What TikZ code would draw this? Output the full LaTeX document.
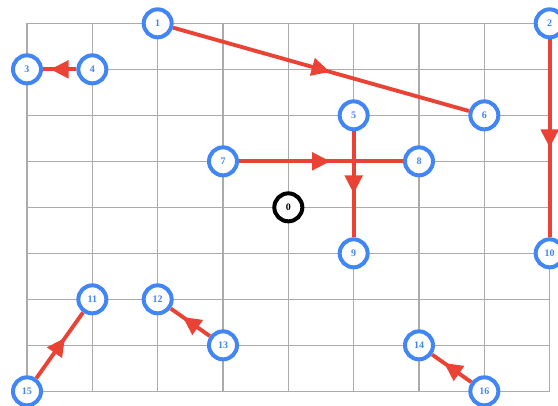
\documentclass[tikz,border=0pt]{standalone}
\usepackage{fontspec}
\setmainfont{Liberation Serif}
\usetikzlibrary{decorations.markings}
\definecolor{nodeblue}{HTML}{4286F5}
\definecolor{edgered}{HTML}{EA4335}
\definecolor{gridgray}{HTML}{ABABAB}

\begin{document}
\begin{tikzpicture}[x=49pt, y=-34.5pt,
	vertex/.style={circle, draw=nodeblue, line width=3pt, fill=white, minimum size=21pt, inner sep=0pt, text=nodeblue, font=\fontsize{7.5}{8}\selectfont\bfseries},
	origin/.style={vertex, draw=black, text=black},
	edge/.style={edgered, line width=2.9pt, postaction={decorate},
		decoration={markings, mark=at position 0.5 with {\fill[edgered] (6.75pt,0pt) -- (-6.75pt,7pt) -- (-6.75pt,-7pt) -- cycle;}}}]
		% Frame
		\useasboundingbox (-20.25pt,17.5pt) rectangle (398.25pt,-286.25pt);
		\clip (-20.25pt,17.5pt) rectangle (398.25pt,-286.25pt);
		
		% Grid
		\foreach \i in {0,...,8} {
			\draw[gridgray, line width=1pt] (\i,0) -- (\i,8);
			\draw[gridgray, line width=1pt] (0,\i) -- (8,\i);
		}
		
		% Nodes
		\node[origin] (n0) at (4,4) {0};
		\node[vertex] (n1) at (2,0) {1};
		\node[vertex] (n2) at (8,0) {2};
		\node[vertex] (n3) at (0,1) {3};
		\node[vertex] (n4) at (1,1) {4};
		\node[vertex] (n5) at (5,2) {5};
		\node[vertex] (n6) at (7,2) {6};
		\node[vertex] (n7) at (3,3) {7};
		\node[vertex] (n8) at (6,3) {8};
		\node[vertex] (n9) at (5,5) {9};
		\node[vertex] (n10) at (8,5) {10};
		\node[vertex] (n11) at (1,6) {11};
		\node[vertex] (n12) at (2,6) {12};
		\node[vertex] (n13) at (3,7) {13};
		\node[vertex] (n14) at (6,7) {14};
		\node[vertex] (n15) at (0,8) {15};
		\node[vertex] (n16) at (7,8) {16};
		
		% Edges
		\draw[edge] (n1) -- (n6);
		\draw[edge] (n4) -- (n3);
		\draw[edge] (n2) -- (n10);
		\draw[edge] (n7) -- (n8);
		\draw[edge] (n5) -- (n9);
		\draw[edge] (n15) -- (n11);
		\draw[edge] (n13) -- (n12);
		\draw[edge] (n16) -- (n14);
	\end{tikzpicture}
\end{document}
